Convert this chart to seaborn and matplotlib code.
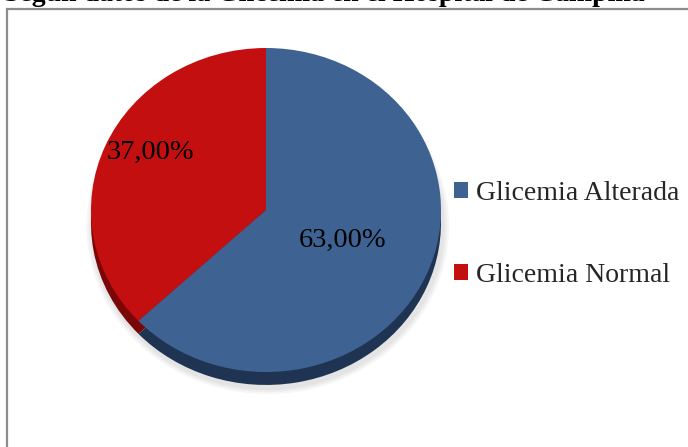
import matplotlib
matplotlib.use("Agg")
import matplotlib.pyplot as plt
from matplotlib.patches import Rectangle, Patch
import seaborn as sns

# Chart data
categories = ["Glicemia Normal", "Glicemia Alterada"]
values = [37.0, 63.0]
slice_colors = ["#C40F10", "#3E6393"]
rim_colors = ["#7A0708", "#1F3452"]
legend_order = ["Glicemia Alterada", "Glicemia Normal"]
title_text = "Según datos de la Glicemia en el Hospital de Campiña"

sns.set_theme(style="white")
plt.rcParams["font.family"] = ["Liberation Serif", "DejaVu Serif"]

fig = plt.figure(figsize=(6.88, 4.47), dpi=100)
fig.patch.set_facecolor("white")

# Outer chart frame (runs off the right and bottom edges)
fig.patches.append(Rectangle((6.5 / 688, -0.05), 1.2, 1 - 8.5 / 447 + 0.05,
                             transform=fig.transFigure, fill=False,
                             edgecolor="#8C8C8C", linewidth=1.6, zorder=0))

# Title, mostly cut off at the top edge
fig.text(4 / 688, 1 - 1.0 / 447, title_text, ha="left", va="baseline",
         fontsize=20, fontweight="bold", color="black")

cx, cy, rx, ry = 266, 210, 175, 162
ax = fig.add_axes([(cx - rx) / 688, (447 - cy - ry) / 447, 2 * rx / 688, 2 * ry / 447])

depth = 0.08
no_edge = dict(linewidth=0, edgecolor="none")

# Soft shadow below the disc
for i, a in enumerate([0.05, 0.05, 0.06]):
    sh, _ = ax.pie([sum(values)], radius=1.0 + 0.012 * (3 - i), center=(0.01, -depth - 0.02),
                   colors=["#555555"], startangle=90, frame=True, wedgeprops=no_edge)
    for w in sh:
        w.set_alpha(a)
        w.set_clip_on(False)

# Side of the 3D disc
rim, _ = ax.pie(values, colors=rim_colors, startangle=90, counterclock=True,
                center=(0, -depth), radius=1.0, frame=True, wedgeprops=no_edge)
for w in rim:
    w.set_clip_on(False)

# Top face
wedges, texts = ax.pie(values, colors=slice_colors, startangle=90, counterclock=True,
                       radius=1.0, frame=True, wedgeprops=no_edge)
for w in wedges:
    w.set_clip_on(False)

# Stretch the disc to fill the axes box (slightly tilted look)
ax.set_aspect("auto")
ax.set_xlim(-1, 1)
ax.set_ylim(-1, 1)
ax.axis("off")

# Value labels
label_pos = {"Glicemia Normal": (-0.66, 0.355), "Glicemia Alterada": (0.44, -0.19)}
for cat, val in zip(categories, values):
    x, y = label_pos[cat]
    ax.text(x, y, f"{val:.2f}".replace(".", ",") + "%", ha="center", va="center",
            fontsize=20.5, color="black")

# Legend
color_of = dict(zip(categories, slice_colors))
handles = [Patch(facecolor=color_of[c], edgecolor="none", label=c) for c in legend_order]
fig.legend(handles=handles, loc="upper left", bbox_to_anchor=(454 / 688, 1 - 181 / 447),
           frameon=False, fontsize=20, handlelength=0.5, handleheight=0.5,
           handletextpad=0.3, labelspacing=2.05, borderaxespad=0, borderpad=0)

fig.savefig("out.png", dpi=100, facecolor="white")
